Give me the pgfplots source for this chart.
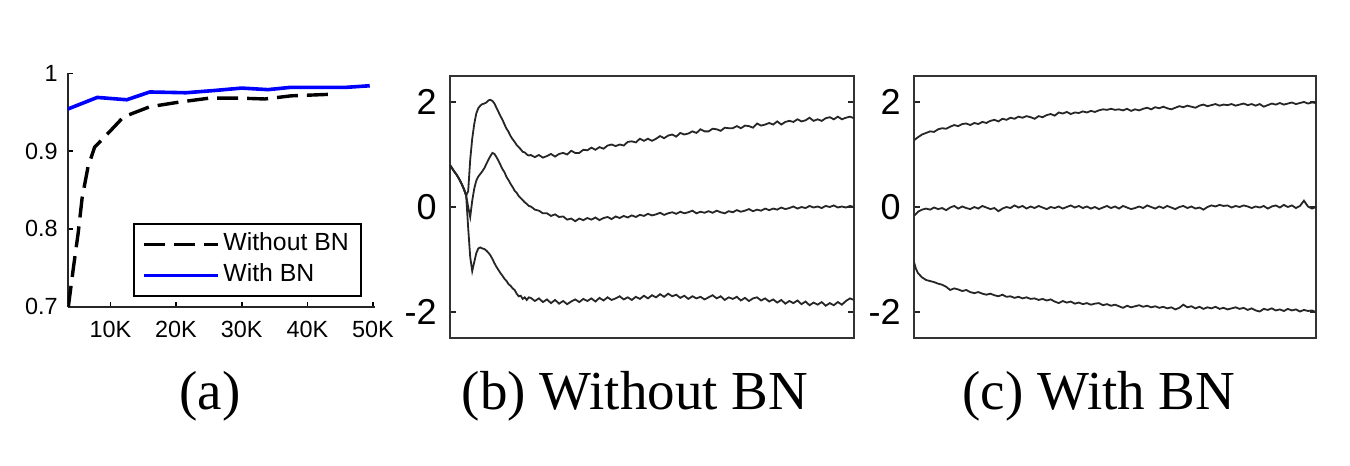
\documentclass[border=0pt]{standalone}
\usepackage{fontspec}
\setmainfont{Liberation Serif}
\newfontfamily\arial{Liberation Sans}
\usepackage{pgfplots}
\usepackage{pgfplotstable}
\pgfplotsset{compat=1.18}

\pgfplotstableread{
x top mid bot
0 0.80 0.80 0.80
0.5 0.74 0.74 0.74
1 0.68 0.68 0.68
1.5 0.63 0.63 0.63
2 0.57 0.57 0.57
2.5 0.50 0.50 0.50
3 0.42 0.42 0.42
3.5 0.33 0.33 0.33
4 0.22 0.22 0.22
4.5 0.30 0.00 -0.40
5 0.90 -0.19 -0.95
5.5 1.30 0.12 -1.22
6 1.58 0.35 -1.05
6.5 1.78 0.50 -0.88
7 1.88 0.58 -0.79
7.5 1.93 0.63 -0.77
8 1.96 0.68 -0.79
8.5 1.97 0.74 -0.80
9 1.99 0.82 -0.83
9.5 2.03 0.90 -0.87
10 2.04 0.97 -0.92
10.5 2.02 1.03 -0.99
11 1.97 1.01 -1.07
11.5 1.89 0.95 -1.14
12 1.81 0.88 -1.20
12.5 1.73 0.80 -1.26
13 1.66 0.72 -1.31
13.5 1.57 0.66 -1.37
14 1.49 0.57 -1.41
14.5 1.43 0.51 -1.47
15 1.35 0.44 -1.50
15.5 1.29 0.38 -1.55
16 1.24 0.31 -1.58
16.5 1.18 0.27 -1.65
17 1.14 0.21 -1.70
17.5 1.10 0.17 -1.69
18 1.05 0.13 -1.75
18.5 1.04 0.09 -1.72
19 1.00 0.06 -1.77
19.5 0.98 0.02 -1.72
20 0.99 0.01 -1.73
21 0.95 -0.05 -1.79
22 0.99 -0.07 -1.74
23 0.94 -0.12 -1.81
24 0.97 -0.12 -1.76
25 1.01 -0.17 -1.83
26 0.96 -0.14 -1.77
27 1.01 -0.19 -1.84
28 1.03 -0.18 -1.79
29 1.00 -0.24 -1.85
30 1.07 -0.22 -1.80
31 1.03 -0.27 -1.76
32 1.03 -0.22 -1.81
33 1.09 -0.25 -1.75
34 1.08 -0.21 -1.79
35 1.13 -0.24 -1.74
36 1.09 -0.20 -1.80
37 1.14 -0.25 -1.73
38 1.11 -0.21 -1.78
39 1.17 -0.19 -1.72
40 1.19 -0.23 -1.77
41 1.16 -0.18 -1.74
42 1.19 -0.21 -1.70
43 1.17 -0.17 -1.76
44 1.24 -0.20 -1.72
45 1.25 -0.16 -1.77
46 1.23 -0.19 -1.71
47 1.30 -0.15 -1.75
48 1.26 -0.17 -1.69
49 1.30 -0.13 -1.74
50 1.26 -0.16 -1.68
51 1.30 -0.14 -1.72
52 1.35 -0.11 -1.66
53 1.31 -0.15 -1.71
54 1.36 -0.12 -1.65
55 1.38 -0.10 -1.70
56 1.34 -0.13 -1.67
57 1.41 -0.09 -1.73
58 1.38 -0.12 -1.69
59 1.40 -0.10 -1.75
60 1.44 -0.07 -1.70
61 1.41 -0.12 -1.74
62 1.48 -0.09 -1.71
63 1.44 -0.11 -1.76
64 1.44 -0.08 -1.72
65 1.49 -0.11 -1.68
66 1.48 -0.07 -1.74
67 1.45 -0.10 -1.70
68 1.51 -0.12 -1.77
69 1.50 -0.08 -1.72
70 1.50 -0.10 -1.75
71 1.54 -0.06 -1.71
72 1.50 -0.09 -1.78
73 1.55 -0.07 -1.73
74 1.54 -0.04 -1.79
75 1.51 -0.08 -1.74
76 1.59 -0.05 -1.72
77 1.55 -0.07 -1.78
78 1.57 -0.03 -1.74
79 1.60 -0.06 -1.80
80 1.57 -0.03 -1.76
81 1.63 -0.05 -1.82
82 1.57 -0.01 -1.77
83 1.62 -0.04 -1.84
84 1.64 -0.02 -1.79
85 1.62 0.01 -1.83
86 1.67 -0.03 -1.78
87 1.63 0.00 -1.85
88 1.65 -0.02 -1.80
89 1.70 0.02 -1.87
90 1.64 -0.01 -1.82
91 1.67 0.01 -1.86
92 1.64 -0.02 -1.81
93 1.69 0.02 -1.88
94 1.71 0.00 -1.83
95 1.67 0.03 -1.87
96 1.72 -0.01 -1.81
97 1.67 0.01 -1.86
98 1.70 -0.01 -1.79
99 1.72 0.02 -1.74
100 1.69 0.00 -1.77
}\tabB

\pgfplotstableread{
x top mid bot
0 1.27 -0.17 -1.05
0.5 1.30 -0.13 -1.18
1 1.33 -0.09 -1.26
2 1.38 -0.05 -1.34
3 1.41 -0.03 -1.39
4 1.44 -0.05 -1.41
5 1.43 -0.01 -1.43
6 1.48 -0.04 -1.46
7 1.50 -0.02 -1.48
8 1.49 -0.06 -1.52
9 1.53 -0.01 -1.58
10 1.56 0.02 -1.55
11 1.54 -0.03 -1.57
12 1.58 0.01 -1.60
13 1.59 -0.02 -1.58
14 1.56 -0.04 -1.62
15 1.60 0.00 -1.64
16 1.58 -0.03 -1.62
17 1.62 0.02 -1.65
18 1.60 -0.01 -1.67
19 1.64 -0.04 -1.65
20 1.66 -0.02 -1.68
21 1.63 -0.08 -1.70
22 1.68 -0.03 -1.67
23 1.66 0.00 -1.71
24 1.70 -0.02 -1.70
25 1.68 0.03 -1.73
26 1.72 -0.01 -1.71
27 1.70 0.02 -1.74
28 1.73 -0.03 -1.72
29 1.71 0.01 -1.75
30 1.68 -0.02 -1.74
31 1.73 0.02 -1.77
32 1.71 -0.01 -1.75
33 1.75 -0.04 -1.78
34 1.77 0.00 -1.76
35 1.74 -0.02 -1.80
36 1.80 0.01 -1.83
37 1.78 -0.03 -1.79
38 1.81 0.00 -1.82
39 1.77 0.03 -1.80
40 1.80 -0.01 -1.84
41 1.79 0.02 -1.82
42 1.82 -0.02 -1.85
43 1.80 0.01 -1.83
44 1.83 -0.03 -1.86
45 1.81 0.00 -1.84
46 1.84 -0.04 -1.83
47 1.86 -0.01 -1.87
48 1.85 0.02 -1.85
49 1.87 -0.02 -1.88
50 1.85 0.01 -1.86
51 1.86 -0.03 -1.89
52 1.84 0.02 -1.92
53 1.87 -0.01 -1.88
54 1.83 -0.04 -1.91
55 1.86 -0.02 -1.89
56 1.84 0.01 -1.87
57 1.87 -0.02 -1.90
58 1.89 0.03 -1.88
59 1.86 0.00 -1.91
60 1.90 -0.03 -1.89
61 1.88 0.01 -1.92
62 1.91 -0.02 -1.90
63 1.88 0.02 -1.93
64 1.86 -0.01 -1.91
65 1.89 -0.04 -1.95
66 1.92 0.00 -1.92
67 1.90 0.02 -1.86
68 1.93 -0.02 -1.91
69 1.91 0.01 -1.89
70 1.89 -0.03 -1.93
71 1.93 -0.01 -1.90
72 1.95 -0.05 -1.94
73 1.92 0.00 -1.91
74 1.94 0.03 -1.93
75 1.96 0.01 -1.90
76 1.93 0.04 -1.94
77 1.95 0.02 -1.92
78 1.94 0.03 -1.95
79 1.96 -0.01 -1.93
80 1.93 0.02 -1.91
81 1.95 0.00 -1.94
82 1.97 0.03 -1.92
83 1.94 0.01 -1.96
84 1.96 -0.02 -1.93
85 1.93 0.01 -1.97
86 1.96 -0.01 -1.99
87 1.91 0.02 -1.94
88 1.94 -0.03 -1.96
89 1.97 0.01 -1.93
90 1.95 0.03 -1.97
91 1.98 -0.01 -1.95
92 1.95 0.04 -1.98
93 1.97 0.00 -1.94
94 1.99 0.03 -1.97
95 1.96 -0.02 -1.95
96 1.98 0.02 -1.99
97 2.00 0.12 -1.96
98 1.97 0.01 -1.98
99 1.99 -0.03 -1.97
100 1.98 0.00 -2.00
}\tabC

\pgfplotsset{
  bnpanel/.style={
    scale only axis,
    width=#1, height=131.3pt,
    xmin=0, xmax=100, ymin=-2.5, ymax=2.5,
    xtick=\empty,
    ytick={-2,0,2}, yticklabels={-2,0,2},
    tick align=inside,
    major tick length=3pt,
    tick style={line width=0.9pt, black!85},
    axis line style={line width=1pt, black!80},
    yticklabel style={font=\arial\fontsize{18}{20}\selectfont, inner xsep=0pt, xshift=-6.5pt},
  },
  bncurve/.style={black!85, line width=0.9pt, mark=none},
}

\begin{document}
\begin{tikzpicture}
\path (0pt,0pt) rectangle (675pt,233pt);

% (a)
\begin{axis}[
  at={(33.85pt,79.65pt)}, anchor=south west,
  scale only axis, width=153.65pt, height=116.7pt,
  axis lines=left, axis line style={-, line width=1pt, black!85},
  xmin=3500, xmax=50300, ymin=0.7, ymax=1.0,
  xtick={10000,20000,30000,40000,50000},
  xticklabels={10K,20K,30K,40K,50K},
  ytick={0.7,0.8,0.9,1}, yticklabels={0.7,0.8,0.9,1},
  scaled x ticks=false,
  tick align=inside, major tick length=2.5pt,
  tick style={line width=0.8pt, black},
  xticklabel style={font=\arial\fontsize{11.7}{13}\selectfont, inner ysep=0pt, yshift=-7pt},
  yticklabel style={font=\arial\fontsize{11.7}{13}\selectfont, inner xsep=0pt, xshift=-4.8pt},
  legend style={at={(0.957,0.043)}, anchor=south east, draw=black, line width=1pt,
    font=\arial\fontsize{12.4}{14}\selectfont, inner xsep=4pt, inner ysep=2.4pt,
    nodes={inner sep=2pt, text height=9pt, text depth=2.5pt}},
  legend cell align=left,
  legend image code/.code={\draw[#1] (0pt,0pt) -- (37pt,0pt);},
]
\addplot[black, line width=1.7pt, dash pattern=on 10.5pt off 4.5pt] coordinates {
(3600,0.700) (4400,0.752) (5100,0.795) (5700,0.840) (6600,0.880) (7600,0.905)
(10000,0.926) (12000,0.944) (16000,0.957) (20500,0.963) (25000,0.968)
(30000,0.968) (33500,0.967) (37500,0.971) (43500,0.973)};
\addlegendentry{Without BN}
\addplot[color={rgb,255:red,0;green,0;blue,255}, line width=1.8pt] coordinates {
(3500,0.954) (8000,0.969) (12500,0.966) (16000,0.976) (21500,0.975)
(26000,0.978) (30000,0.981) (34000,0.979) (37500,0.982) (46000,0.982) (49500,0.984)};
\addlegendentry{With BN}
\end{axis}

% (b)
\begin{axis}[bnpanel=202pt, at={(225pt,63.85pt)}, anchor=south west]
\addplot[bncurve] table[x=x, y=top] {\tabB};
\addplot[bncurve] table[x=x, y=mid] {\tabB};
\addplot[bncurve] table[x=x, y=bot] {\tabB};
\end{axis}

% (c)
\begin{axis}[bnpanel=201pt, at={(457pt,63.85pt)}, anchor=south west]
\addplot[bncurve] table[x=x, y=top] {\tabC};
\addplot[bncurve] table[x=x, y=mid] {\tabC};
\addplot[bncurve] table[x=x, y=bot] {\tabC};
\end{axis}

\node[anchor=base, font=\fontsize{27.5}{30}\selectfont] at (105pt,28pt) {(a)};
\node[anchor=base, font=\fontsize{27.5}{30}\selectfont] at (317.5pt,28pt) {(b) Without BN};
\node[anchor=base, font=\fontsize{27.5}{30}\selectfont] at (549.5pt,28pt) {(c) With BN};
\end{tikzpicture}
\end{document}
